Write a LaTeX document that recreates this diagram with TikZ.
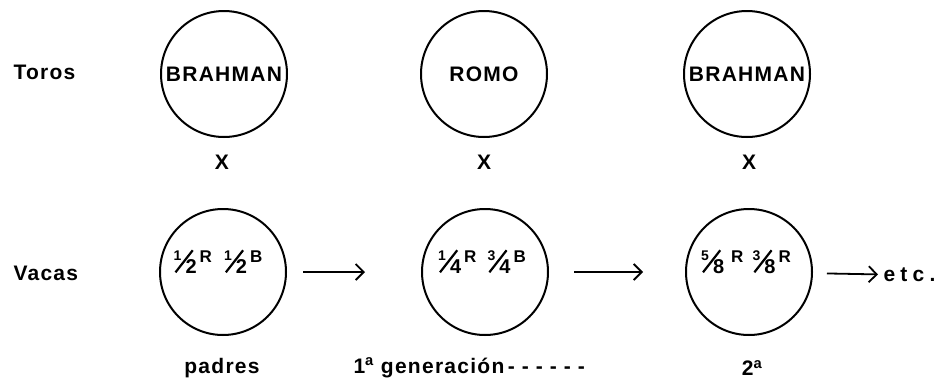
\documentclass[tikz,border=0pt]{standalone}
\usepackage{fontspec}
\setmainfont{Liberation Sans}[LetterSpace=6]
\usetikzlibrary{arrows.meta}

% fraccion inclinada: numerador arriba, denominador abajo
\newcommand{\quebrado}[2]{%
  \raisebox{2pt}{\makebox[6pt][l]{\fontsize{14}{14}\selectfont #1}}\kern-5pt
  \raisebox{-11pt}{\rotatebox{52}{\rule{28pt}{2.2pt}}}\kern-8pt
  \raisebox{-11pt}{\fontsize{20}{20}\selectfont #2}\kern3pt}
\newcommand{\raza}[1]{{\fontsize{17}{17}\selectfont #1}}

\tikzset{
  animal/.style={draw, circle, line width=2pt, minimum size=126pt, inner sep=0pt},
  mezcla/.style={anchor=base, inner sep=0pt, font=\fontsize{17}{18}\selectfont\bfseries},
  flecha/.style={line width=1.8pt, -{Straight Barb[length=8pt,width=16pt,line width=1.8pt]}}
}

\begin{document}
\begin{tikzpicture}[x=1pt, y=-1pt, font=\fontsize{21}{24}\selectfont\bfseries]
  \useasboundingbox (0,0) rectangle (938,386);

  % toros
  \node[anchor=west] (toros) at (10,72) {Toros};
  \node[animal, label=center:BRAHMAN] (t1) at (224,74) {};
  \node[animal, label=center:ROMO] (t2) at (484,74) {};
  \node[animal, label=center:BRAHMAN] (t3) at (747,74) {};
  \node (x1) at (222,162) {X};
  \node (x2) at (484,162) {X};
  \node (x3) at (749,162) {X};

  % vacas
  \node[anchor=west] (vacas) at (10,273) {Vacas};
  \node[animal] (v1) at (223,272) {};
  \node[animal] (v2) at (485,272) {};
  \node[animal] (v3) at (749,272) {};
  \node[mezcla] (m1) at (218,262) {\quebrado12\raza{R}\hspace{12pt}\quebrado12\raza{B}};
  \node[mezcla] (m2) at (482,262) {\quebrado14\raza{R}\hspace{11pt}\quebrado34\raza{B}};
  \node[mezcla] (m3) at (746,262) {\quebrado58\hspace{4pt}\raza{R}\hspace{9pt}\quebrado38\raza{R}};
  \node[anchor=west, font=\fontsize{21}{24}\selectfont\bfseries\addfontfeature{LetterSpace=25}] (etc) at (880,275) {etc.};

  \draw[flecha, shorten <=16pt, shorten >=56pt] (v1) -- (v2);
  \draw[flecha, shorten <=25pt, shorten >=42pt] (v2) -- (v3);
  \draw[flecha, shorten <=14pt, shorten >=2pt] (v3) -- (etc);

  % generaciones
  \node (padres) at (222,368) {padres};
  \node[anchor=west] (gen1) at (350,368) {1\textsuperscript{a} generación\,-\,\,-\,\,-\,\,-\,\,-\,\,-};
  \node (gen2) at (752,368) {2\textsuperscript{a}};
\end{tikzpicture}
\end{document}
